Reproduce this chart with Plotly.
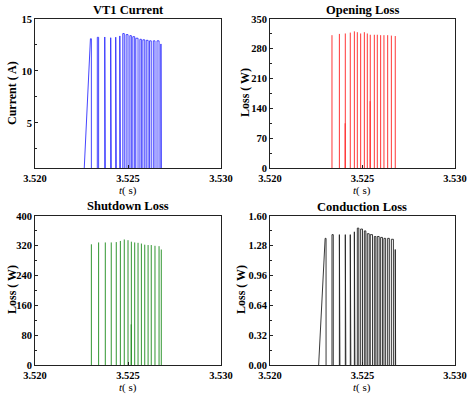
import plotly.graph_objects as go

# ---------------- data ----------------
ramp_start = 3.52263
ramp_end = 3.52298
on_times = [3.52335, 3.52375, 3.52407, 3.52434, 3.52456, 3.52472, 3.52490, 3.52510,
            3.52526, 3.52542, 3.52564, 3.52580, 3.52598, 3.52616, 3.52636, 3.52656, 3.52677]
off_times = [3.52303, 3.52342, 3.52378, 3.52410, 3.52437, 3.52459, 3.52480, 3.52500, 3.52518,
             3.52536, 3.52554, 3.52572, 3.52590, 3.52608, 3.52625, 3.52645, 3.52667, 3.52679]
current_peaks = [13.1, 13.24, 13.27, 13.2, 13.25, 13.37, 13.6, 13.5, 13.4, 13.3, 13.15,
                 13.05, 13.0, 12.95, 12.9, 12.9, 12.9, 12.6]
conduction_peaks = [1.36, 1.40, 1.40, 1.40, 1.40, 1.43, 1.47, 1.46, 1.44, 1.41, 1.40,
                    1.38, 1.38, 1.37, 1.36, 1.36, 1.35, 1.24]
opening_peaks = [312, 315, 316, 318, 321, 319, 316, 319, 316, 313, 313, 313, 312, 312, 312, 311, 310]
shutdown_peaks = [324, 329, 329, 329, 330, 333, 337, 335, 331, 329, 328, 326, 323, 322, 322, 320, 319, 310]
opening_partial_t = [3.52406, 3.52541]
opening_partial_v = [105, 157]
shutdown_partial_t = [3.52517]
shutdown_partial_v = [109]

x_ticks = [3.520, 3.525, 3.530]
x_ticktext = ["3.520", "3.525", "3.530"]

W, H = 471, 394
FONT = "Liberation Serif"


def pulse_wave(peaks):
    xs = [ramp_start, ramp_end, off_times[0], off_times[0], None]
    ys = [0, peaks[0], peaks[0], 0, None]
    for i, t_on in enumerate(on_times):
        t_off = off_times[i + 1]
        p = peaks[i + 1]
        xs += [t_on, t_on, t_off, t_off, None]
        ys += [0, p, p, 0, None]
    return xs, ys


def spikes(ts, vs):
    xs, ys = [], []
    for t, v in zip(ts, vs):
        xs += [t, t, None]
        ys += [0, v, None]
    return xs, ys


fig = go.Figure()

cx, cy = pulse_wave(current_peaks)
fig.add_trace(go.Scatter(x=cx, y=cy, mode="lines", line=dict(color="#3030ff", width=0.9),
                         xaxis="x", yaxis="y", showlegend=False))
ox, oy = spikes(on_times + opening_partial_t, opening_peaks + opening_partial_v)
fig.add_trace(go.Scatter(x=ox, y=oy, mode="lines", line=dict(color="#ff2020", width=0.9),
                         xaxis="x2", yaxis="y2", showlegend=False))
sx, sy = spikes(off_times + shutdown_partial_t, shutdown_peaks + shutdown_partial_v)
fig.add_trace(go.Scatter(x=sx, y=sy, mode="lines", line=dict(color="#1a8a1a", width=0.9),
                         xaxis="x3", yaxis="y3", showlegend=False))
kx, ky = pulse_wave(conduction_peaks)
fig.add_trace(go.Scatter(x=kx, y=ky, mode="lines", line=dict(color="#222222", width=0.9),
                         xaxis="x4", yaxis="y4", showlegend=False))

# subplot pixel boxes: (left, right, top, bottom)
boxes = [(35, 221, 19, 168), (270, 455, 19, 168), (35, 221, 216, 365), (270, 455, 216, 365)]
yspecs = [
    dict(range=[0.67, 15], tickvals=[5, 10, 15], minor_dtick=2.5, fmt=None),
    dict(range=[0, 350], tickvals=[0, 70, 140, 210, 280, 350], minor_dtick=35, fmt=None),
    dict(range=[0, 400], tickvals=[0, 80, 160, 240, 320, 400], minor_dtick=40, fmt=None),
    dict(range=[0, 1.6], tickvals=[0, 0.32, 0.64, 0.96, 1.28, 1.6], minor_dtick=0.16, fmt=".2f"),
]
tickfont = dict(family=FONT, size=10.5, color="black", weight="bold")
layout = {}
for i, ((l, r, t, b), ys) in enumerate(zip(boxes, yspecs)):
    sfx = "" if i == 0 else str(i + 1)
    layout["xaxis" + sfx] = dict(
        domain=[l / W, r / W], anchor="y" + sfx, range=[3.520, 3.530],
        tickvals=x_ticks, ticktext=x_ticktext, ticks="inside", ticklen=3,
        tickcolor="#222", showline=True, linecolor="#222", linewidth=1, mirror=True,
        showgrid=False, zeroline=False, tickfont=tickfont, fixedrange=True,
        automargin=False)
    ya = dict(
        domain=[1 - b / H, 1 - t / H], anchor="x" + sfx, range=ys["range"],
        tickvals=ys["tickvals"], ticks="inside", ticklen=3, tickcolor="#222",
        showline=True, linecolor="#222", linewidth=1, mirror=True,
        showgrid=False, zeroline=False, tickfont=tickfont, fixedrange=True,
        automargin=False,
        minor=dict(ticks="inside", ticklen=2, dtick=ys["minor_dtick"], tickcolor="#222",
                   showgrid=False))
    if ys["fmt"]:
        ya["tickformat"] = ys["fmt"]
    layout["yaxis" + sfx] = ya

titles = ["VT1 Current", "Opening Loss", "Shutdown Loss", "Conduction Loss"]
title_pos = [(128, 10), (362, 10), (128, 206), (362, 207)]
ytitles = ["Current ( A)", "Loss ( W)", "Loss ( W)", "Loss ( W)"]
ytitle_pos = [(12, 93), (245, 93), (12, 290), (241, 290)]
xtitle_pos = [(128, 190), (362, 190), (128, 387), (362, 387)]

ann = []
for txt, (px, py) in zip(titles, title_pos):
    ann.append(dict(text="<b>" + txt + "</b>", x=px / W, y=1 - py / H, xref="paper", yref="paper",
                    showarrow=False, xanchor="center", yanchor="middle",
                    font=dict(family=FONT, size=12.5, color="black")))
for txt, (px, py) in zip(ytitles, ytitle_pos):
    ann.append(dict(text="<b>" + txt + "</b>", x=px / W, y=1 - py / H, xref="paper", yref="paper",
                    showarrow=False, xanchor="center", yanchor="middle", textangle=-90,
                    font=dict(family=FONT, size=12, color="black")))
for (px, py) in xtitle_pos:
    ann.append(dict(text="<i>t</i>( s)", x=px / W, y=1 - py / H, xref="paper", yref="paper",
                    showarrow=False, xanchor="center", yanchor="middle",
                    font=dict(family=FONT, size=11, color="black")))

fig.update_layout(
    width=W, height=H, margin=dict(l=0, r=0, t=0, b=0, autoexpand=False),
    paper_bgcolor="white", plot_bgcolor="white", annotations=ann, **layout)

fig.write_html("out.html", config={"displayModeBar": False},
               post_script="document.body.style.margin='0';document.body.style.overflow='hidden';")
